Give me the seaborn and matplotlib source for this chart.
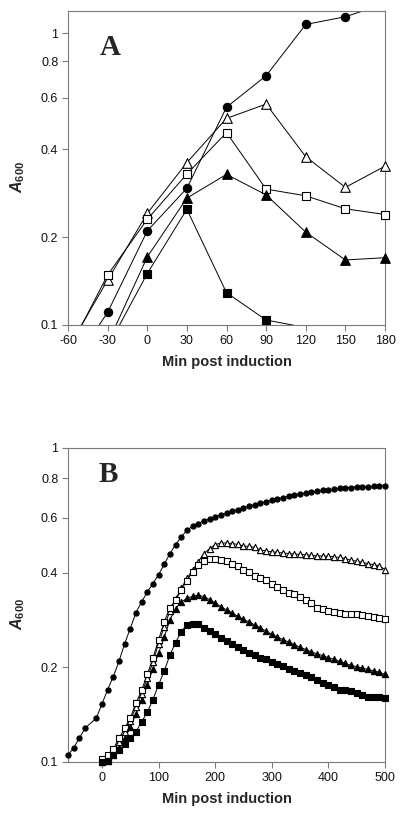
import numpy as np
import pandas as pd
import matplotlib
matplotlib.use("Agg")
import matplotlib.pyplot as plt
from matplotlib.ticker import FixedLocator, NullLocator, FixedFormatter
import seaborn as sns

# ---------------- Panel A data ----------------
xa = [-60, -30, 0, 30, 60, 90, 120, 150, 180]
a_filled_circle = [0.069, 0.1105, 0.210, 0.294, 0.557, 0.714, 1.07, 1.137, 1.26]
a_open_triangle = [0.083, 0.1426, 0.241, 0.360, 0.510, 0.571, 0.377, 0.296, 0.350]
a_open_square = [0.081, 0.1484, 0.230, 0.329, 0.456, 0.292, 0.277, 0.250, 0.239]
a_filled_triangle = [np.nan, 0.0865, 0.171, 0.272, 0.328, 0.279, 0.208, 0.167, 0.170]
a_filled_square = [np.nan, 0.084, 0.150, 0.249, 0.129, 0.104, 0.098, np.nan, np.nan]

# ---------------- Panel B data ----------------
xb_circle = [-60, -50, -40, -30, -10] + list(range(0, 510, 10))
xb = list(range(0, 510, 10))
b_filled_circle = [0.105, 0.111, 0.119, 0.128, 0.138,
                   0.153, 0.170, 0.187, 0.209, 0.238, 0.266, 0.299, 0.323, 0.348, 0.370,
                   0.395, 0.426, 0.461, 0.492, 0.520, 0.547, 0.563, 0.574, 0.586, 0.594,
                   0.603, 0.612, 0.621, 0.630, 0.636, 0.644, 0.652, 0.660, 0.668, 0.675,
                   0.681, 0.688, 0.695, 0.702, 0.709, 0.714, 0.719, 0.724, 0.728, 0.732,
                   0.735, 0.739, 0.743, 0.746, 0.748, 0.750, 0.751, 0.753, 0.755, 0.756, 0.757]
b_open_triangle = [0.101, 0.104, 0.108, 0.116, 0.125, 0.135, 0.150, 0.165, 0.185, 0.208,
                   0.238, 0.270, 0.302, 0.330, 0.357, 0.384, 0.408, 0.434, 0.461, 0.478,
                   0.492, 0.498, 0.498, 0.496, 0.493, 0.487, 0.486, 0.482, 0.473, 0.470,
                   0.467, 0.465, 0.463, 0.461, 0.459, 0.458, 0.457, 0.455, 0.453, 0.453,
                   0.452, 0.450, 0.448, 0.444, 0.439, 0.436, 0.432, 0.428, 0.425, 0.421, 0.410]
b_open_square = [0.102, 0.105, 0.110, 0.119, 0.128, 0.138, 0.154, 0.169, 0.190, 0.214,
                 0.245, 0.279, 0.310, 0.327, 0.353, 0.378, 0.403, 0.423, 0.437, 0.444,
                 0.444, 0.441, 0.436, 0.428, 0.420, 0.410, 0.402, 0.392, 0.384, 0.379,
                 0.370, 0.360, 0.352, 0.345, 0.343, 0.335, 0.328, 0.320, 0.310, 0.307,
                 0.303, 0.300, 0.298, 0.297, 0.296, 0.295, 0.293, 0.291, 0.290, 0.288, 0.286]
b_filled_triangle = [0.100, 0.101, 0.105, 0.111, 0.119, 0.129, 0.142, 0.158, 0.176, 0.198,
                     0.222, 0.250, 0.283, 0.308, 0.323, 0.332, 0.337, 0.340, 0.336, 0.329,
                     0.321, 0.312, 0.305, 0.298, 0.291, 0.285, 0.279, 0.273, 0.267, 0.261,
                     0.255, 0.250, 0.245, 0.241, 0.236, 0.232, 0.228, 0.224, 0.221, 0.218,
                     0.215, 0.212, 0.209, 0.206, 0.203, 0.201, 0.199, 0.197, 0.195, 0.193, 0.190]
b_filled_square = [0.100, 0.101, 0.105, 0.109, 0.114, 0.119, 0.125, 0.134, 0.144, 0.158,
                   0.176, 0.195, 0.219, 0.240, 0.260, 0.273, 0.276, 0.276, 0.268, 0.261,
                   0.255, 0.248, 0.243, 0.238, 0.232, 0.227, 0.222, 0.219, 0.215, 0.212,
                   0.208, 0.205, 0.202, 0.198, 0.195, 0.192, 0.189, 0.186, 0.182, 0.179,
                   0.176, 0.173, 0.170, 0.169, 0.168, 0.166, 0.163, 0.161, 0.161, 0.161, 0.160]

ytick_vals = [0.1, 0.2, 0.4, 0.6, 0.8, 1.0]
ytick_labels = ["0.1", "0.2", "0.4", "0.6", "0.8", "1"]
xa_ticks = [-60, -30, 0, 30, 60, 90, 120, 150, 180]
xb_ticks = [0, 100, 200, 300, 400, 500]

sns.set_style("ticks")
plt.rcParams['font.family'] = ['Liberation Sans', 'DejaVu Sans']
plt.rcParams['mathtext.fontset'] = 'custom'
plt.rcParams['mathtext.it'] = 'Liberation Sans:italic:bold'
plt.rcParams['mathtext.bf'] = 'Liberation Sans:bold'
plt.rcParams['mathtext.rm'] = 'Liberation Sans'

fig = plt.figure(figsize=(4.0, 8.18), dpi=100)
axA = fig.add_axes([0.17, 0.6027, 0.7925, 0.3839])
axB = fig.add_axes([0.17, 0.0685, 0.7925, 0.3839])

spine_col = '#7a7a7a'

def style(ax, xlim, ylim, xticks):
    ax.set_yscale('log')
    ax.set_xlim(*xlim)
    ax.set_ylim(*ylim)
    ax.yaxis.set_major_locator(FixedLocator(ytick_vals))
    ax.yaxis.set_major_formatter(FixedFormatter(ytick_labels))
    ax.yaxis.set_minor_locator(NullLocator())
    ax.set_xticks(xticks)
    ax.set_xticklabels([str(t) for t in xticks])
    for s in ax.spines.values():
        s.set_visible(True)
        s.set_color(spine_col)
        s.set_linewidth(0.8)
    ax.tick_params(axis='both', which='major', direction='out', length=4, width=0.8,
                   color=spine_col, labelcolor='#111111', labelsize=9, pad=3)
    ax.set_xlabel("Min post induction", fontsize=10.5, fontweight='bold', labelpad=6)
    ax.set_ylabel(r"$\mathit{A}_{\mathbf{600}}$", fontsize=11.5)
    ax.yaxis.set_label_coords(-0.13, 0.47)


def draw(ax, x, y, marker, filled, s, ylim):
    df = pd.DataFrame({'x': x, 'y': y}).dropna()
    sns.lineplot(data=df, x='x', y='y', ax=ax, color='black', linewidth=0.7,
                 sort=False, estimator=None, zorder=2)
    vis = df[(df['y'] >= ylim[0] * 0.995) & (df['y'] <= ylim[1])]
    sns.scatterplot(data=vis, x='x', y='y', ax=ax, marker=marker,
                    color='black' if filled else 'white', edgecolor='black',
                    linewidth=0.8, s=s, zorder=3, clip_on=False)


ylimA = (0.1, 1.19)
style(axA, (-60, 180), ylimA, xa_ticks)
draw(axA, xa, a_filled_circle, 'o', True, 36, ylimA)
draw(axA, xa, a_open_triangle, '^', False, 48, ylimA)
draw(axA, xa, a_open_square, 's', False, 30, ylimA)
draw(axA, xa, a_filled_triangle, '^', True, 48, ylimA)
draw(axA, xa, a_filled_square, 's', True, 30, ylimA)
axA.text(0.10, 0.885, "A", transform=axA.transAxes, fontsize=21, fontweight='bold',
         family='Liberation Serif', va='center', ha='left')

ylimB = (0.1, 1.0)
style(axB, (-60, 500), ylimB, xb_ticks)
draw(axB, xb_circle, b_filled_circle, 'o', True, 14, ylimB)
draw(axB, xb, b_open_triangle, '^', False, 20, ylimB)
draw(axB, xb, b_open_square, 's', False, 13, ylimB)
draw(axB, xb, b_filled_triangle, '^', True, 20, ylimB)
draw(axB, xb, b_filled_square, 's', True, 13, ylimB)
axB.text(0.095, 0.915, "B", transform=axB.transAxes, fontsize=21, fontweight='bold',
         family='Liberation Serif', va='center', ha='left')

fig.savefig("out.png", dpi=100)
